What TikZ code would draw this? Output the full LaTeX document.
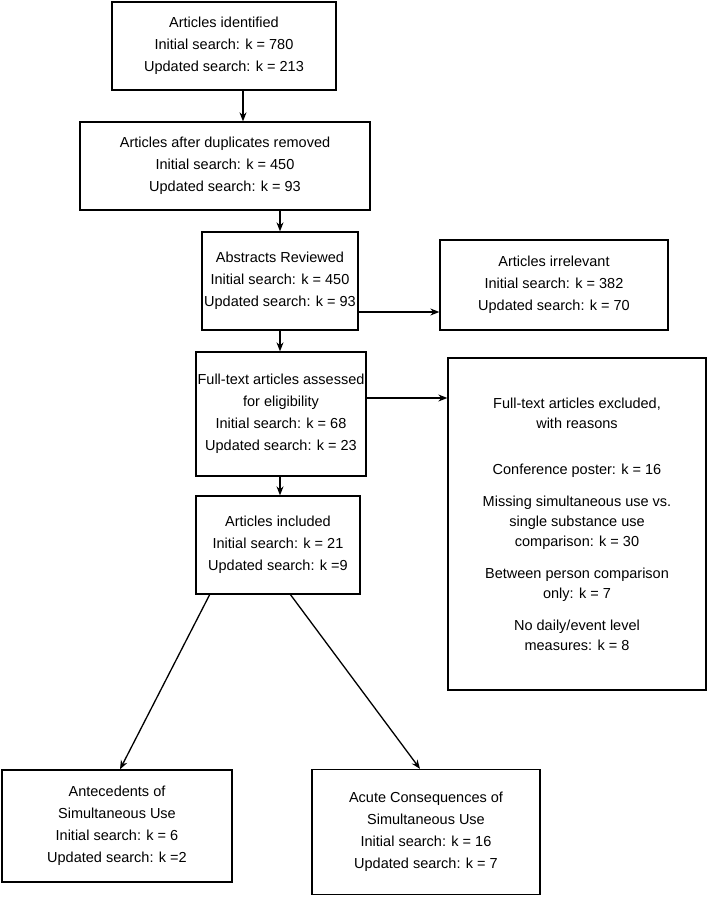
\documentclass[tikz,border=0pt]{standalone}
\usepackage{fontspec}
\setmainfont{Liberation Sans}
\usetikzlibrary{arrows.meta}
\begin{document}
\begin{tikzpicture}[x=1pt,y=-1pt,
  box/.style={draw,line width=1.3pt,align=center,font=\fontsize{14.5}{22}\selectfont,inner sep=0pt},
  arr/.style={line width=1.3pt,-{Stealth[length=9pt,width=7pt]}}]
\useasboundingbox (0,0) rectangle (709,900);
\node[box,minimum width=224,minimum height=88] (a) at (224,46) {Articles identified\\Initial search: k = 780\\Updated search: k = 213};
\node[box,minimum width=290,minimum height=88] (b) at (225,166) {Articles after duplicates removed\\Initial search: k = 450\\Updated search: k = 93};
\node[box,minimum width=156,minimum height=98] (c) at (280,281) {Abstracts Reviewed\\Initial search: k = 450\\Updated search: k = 93};
\node[box,minimum width=228,minimum height=90] (d) at (554,285) {Articles irrelevant\\Initial search: k = 382\\Updated search: k = 70};
\node[box,minimum width=170,minimum height=124] (e) at (281,414) {Full-text articles assessed\\for eligibility\\Initial search: k = 68\\Updated search: k = 23};
\node[box,minimum width=258,minimum height=332,font=\fontsize{14.5}{20}\selectfont] (f) at (577,524) {Full-text articles excluded,\\with reasons\\[26pt]Conference poster: k = 16\\[12pt]Missing simultaneous use vs.\\single substance use\\comparison: k = 30\\[12pt]Between person comparison\\only: k = 7\\[12pt]No daily/event level\\measures: k = 8};
\node[box,minimum width=164,minimum height=98] (g) at (278,545) {Articles included\\Initial search: k = 21\\Updated search: k =9};
\node[box,minimum width=230,minimum height=112] (h) at (117,826) {Antecedents of\\Simultaneous Use\\Initial search: k = 6\\Updated search: k =2};
\node[box,minimum width=228,minimum height=125] (i) at (426,832) {Acute Consequences of\\Simultaneous Use\\Initial search: k = 16\\Updated search: k = 7};
\draw[arr] (a.south -| 243,0) -- (b.north -| 243,0);
\draw[arr] (b.south -| 280,0) -- (c.north -| 280,0);
\draw[arr] (c.east |- 0,312) -- (d.west |- 0,312);
\draw[arr] (c.south -| 280,0) -- (e.north -| 280,0);
\draw[arr] (e.east |- 0,398) -- (f.west |- 0,398);
\draw[arr] (e.south -| 280,0) -- (g.north -| 280,0);
\draw[arr] (210,594) -- (h.north -| 120,0);
\draw[arr] (290,594) -- (i.north -| 420,0);
\end{tikzpicture}
\end{document}
